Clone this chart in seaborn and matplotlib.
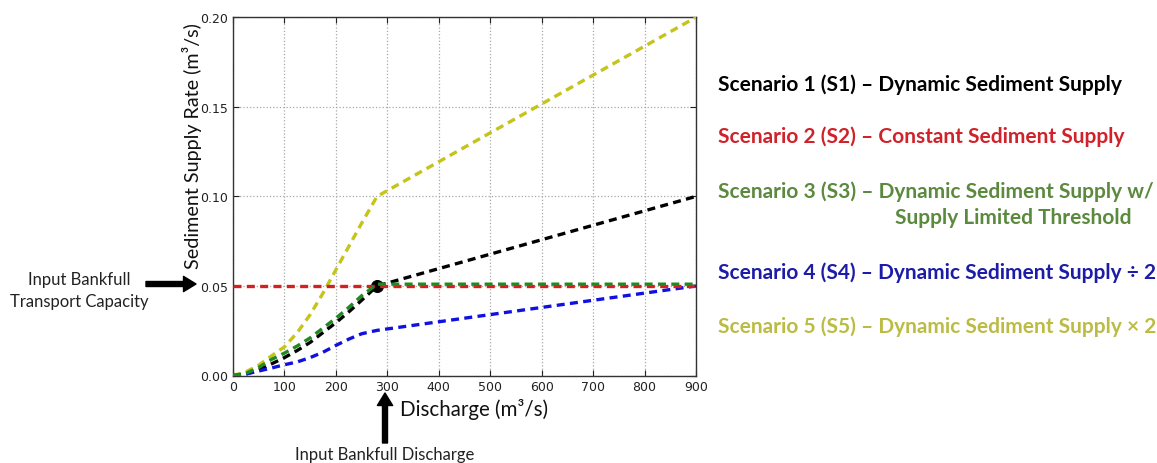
import numpy as np
import pandas as pd
import matplotlib
matplotlib.use("Agg")
import matplotlib.pyplot as plt
import seaborn as sns

# Discharge (m3/s) and sediment supply rate (m3/s) for each scenario
discharge = [0, 25, 50, 75, 100, 125, 150, 175, 200, 225, 250, 280, 900]
s1_dynamic = [0, 0.0008, 0.0030, 0.0065, 0.0100, 0.0140, 0.0185, 0.0240, 0.0295, 0.0355, 0.0420, 0.0500, 0.1000]
s3_threshold = [0, 0.0012, 0.0045, 0.0090, 0.0125, 0.0165, 0.0210, 0.0265, 0.0320, 0.0380, 0.0445, 0.0510, 0.0510]
s4_half = [0, 0.0008, 0.0025, 0.0042, 0.0060, 0.0076, 0.0100, 0.0130, 0.0168, 0.0203, 0.0233, 0.0252, 0.0500]
s5_double = [0, 0.0020, 0.0058, 0.0110, 0.0160, 0.0240, 0.0340, 0.0460, 0.0590, 0.0720, 0.0850, 0.1000, 0.2000]
s2_discharge = [0, 900]
s2_constant = [0.05, 0.05]

bankfull_q = [280]
bankfull_rate = [0.05]

x_ticks = [0, 100, 200, 300, 400, 500, 600, 700, 800, 900]
y_ticks = [0.00, 0.05, 0.10, 0.15, 0.20]

legend_lines = [
    ("Scenario 1 (S1) \u2013 Dynamic Sediment Supply", "#000000"),
    ("Scenario 2 (S2) \u2013 Constant Sediment Supply", "#d0222a"),
    ("Scenario 3 (S3) \u2013 Dynamic Sediment Supply w/", "#5b8a3e"),
    ("Supply Limited Threshold", "#5b8a3e"),
    ("Scenario 4 (S4) \u2013 Dynamic Sediment Supply \u00f7 2", "#1c1ca8"),
    ("Scenario 5 (S5) \u2013 Dynamic Sediment Supply \u00d7 2", "#bcbc45"),
]

sns.set_style("white")
plt.rcParams["font.family"] = ["DejaVu Sans"]

W, H = 1157, 464
fig = plt.figure(figsize=(W / 100, H / 100), dpi=100)
ax = fig.add_axes([233 / W, 1 - 376.5 / H, (696 - 233) / W, (376.5 - 18.3) / H])

dash = (0, (2.4, 1.6))
lw = 2.4

sns.lineplot(x=discharge, y=s1_dynamic, ax=ax, color="black", lw=lw, linestyle=dash, zorder=3)
sns.lineplot(x=discharge, y=s5_double, ax=ax, color="#c4c41a", lw=lw, linestyle=dash, zorder=3)
sns.lineplot(x=discharge, y=s4_half, ax=ax, color="#1010e0", lw=lw, linestyle=dash, zorder=3)
sns.scatterplot(x=bankfull_q, y=bankfull_rate, ax=ax, color="black", s=75, zorder=3.5, edgecolor="black")
sns.lineplot(x=s2_discharge, y=s2_constant, ax=ax, color="#d42020", lw=lw, linestyle=dash, zorder=4)
sns.lineplot(x=discharge, y=s3_threshold, ax=ax, color="#1f8a1f", lw=lw, linestyle=dash, zorder=4.5)

ax.set_xlim(0, 900)
ax.set_ylim(0, 0.20)
ax.set_xticks(x_ticks)
ax.set_yticks(y_ticks)
ax.set_xticklabels([str(t) for t in x_ticks])
ax.set_yticklabels([f"{t:.2f}" for t in y_ticks])
ax.grid(True, color="#a8a8a8", linestyle=":", linewidth=0.9)
ax.tick_params(direction="in", length=4, width=0.8, labelsize=9, colors="#222222",
               top=True, right=True, bottom=True, left=True)
for sp in ax.spines.values():
    sp.set_color("#333333")
    sp.set_linewidth(1.0)
ax.set_xlabel("")
ax.set_ylabel("")

label_font = ["Lato", "DejaVu Sans"]

# Axis titles
fig.text(474 / W, 1 - 410 / H, "Discharge (m\u00b3/s)", ha="center", va="center",
         fontsize=14.8, family=label_font, color="#111111")
fig.text(192 / W, 1 - 146 / H, "Sediment Supply Rate (m\u00b3/s)", ha="center", va="center",
         rotation=90, fontsize=14.2, family=label_font, color="#111111")

# Bankfull annotations
arrow_kw = dict(width=3.6, headwidth=11, headlength=9, color="black", shrink=0)
fig.text(79 / W, 1 - 280 / H, "Input Bankfull", ha="center", va="center",
         fontsize=12, family=label_font, color="#222222")
fig.text(79 / W, 1 - 302 / H, "Transport Capacity", ha="center", va="center",
         fontsize=12, family=label_font, color="#222222")
ax.annotate("", xy=(196 / W, 1 - 285 / H), xytext=(146 / W, 1 - 285 / H),
            xycoords="figure fraction", textcoords="figure fraction", arrowprops=arrow_kw,
            annotation_clip=False)
ax.annotate("", xy=(385 / W, 1 - 394 / H), xytext=(385 / W, 1 - 444 / H),
            xycoords="figure fraction", textcoords="figure fraction", arrowprops=arrow_kw,
            annotation_clip=False)
fig.text(385 / W, 1 - 455 / H, "Input Bankfull Discharge", ha="center", va="center",
         fontsize=12, family=label_font, color="#222222")

# Scenario key
key_y = [85, 137, 192, 218, 273, 327]
key_x = [718, 718, 718, 895, 718, 718]
for (txt, col), yy, xx in zip(legend_lines, key_y, key_x):
    fig.text(xx / W, 1 - yy / H, txt, ha="left", va="center", fontsize=15,
             fontweight="bold", family=label_font, color=col)

fig.savefig("out.png", dpi=100, facecolor="white")
